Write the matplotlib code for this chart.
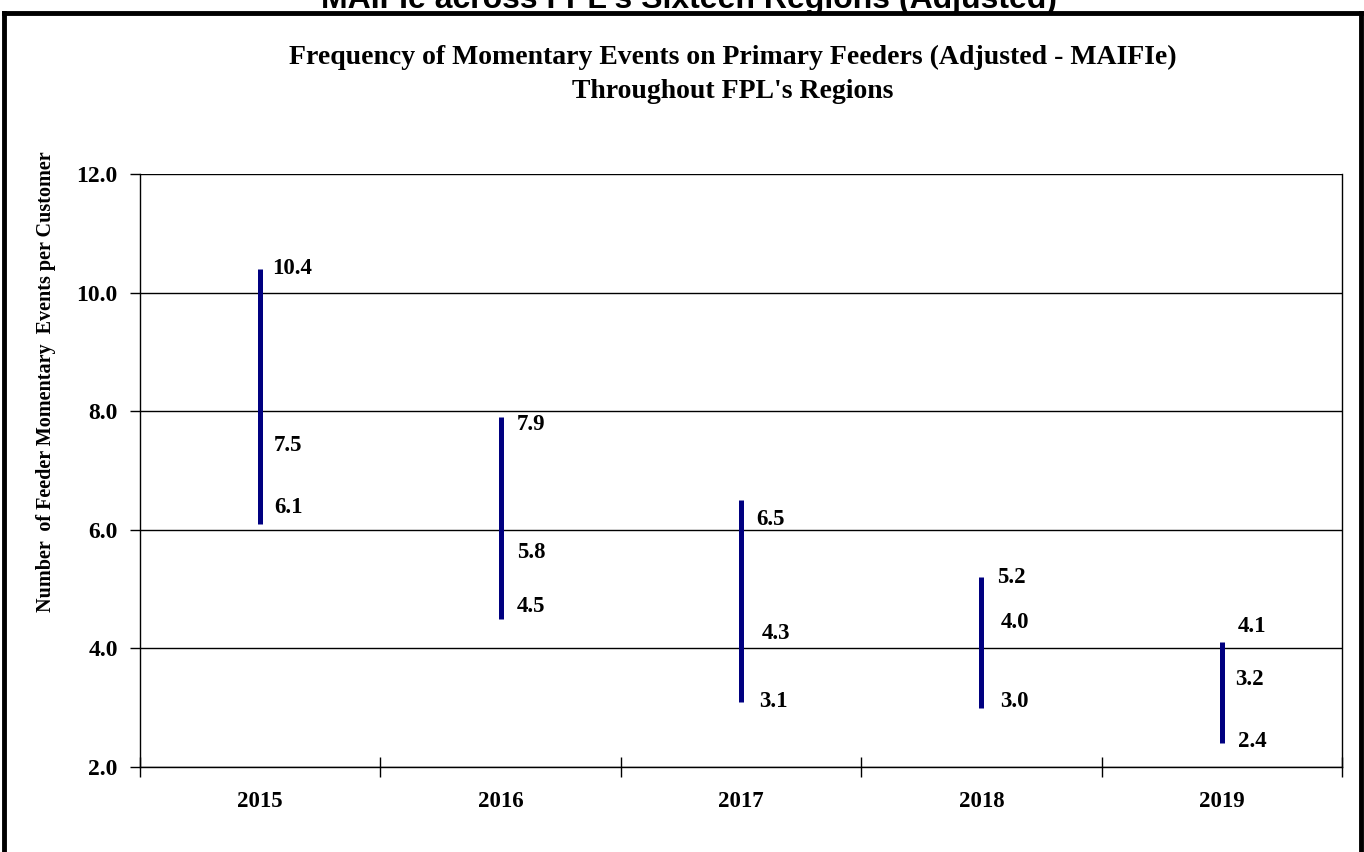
import matplotlib.pyplot as plt
from matplotlib.lines import Line2D

# Data
years = ["2015", "2016", "2017", "2018", "2019"]
high = [10.4, 7.9, 6.5, 5.2, 4.1]
mid = [7.5, 5.8, 4.3, 4.0, 3.2]
low = [6.1, 4.5, 3.1, 3.0, 2.4]
yticks = [2.0, 4.0, 6.0, 8.0, 10.0, 12.0]

# label nudges (points), as placed by hand in the original chart
high_dx = [8.6, 11.5, 10.8, 11.5, 11.5]
high_dy = [0, -5, -13.7, 0, 11.5]
mid_dx = [10, 11.5, 15, 13.7, 9.4]
mid_dy = [-3, -8, -2, 18.7, 11.5]
low_dx = [10, 11.5, 13, 13.7, 11.5]
low_dy = [11.5, 8.6, 0, 4.3, 1.4]

serif = ["Liberation Serif", "DejaVu Serif"]
navy = "#000080"

fig = plt.figure(figsize=(13.64, 8.52), dpi=100)
ax = fig.add_axes([140 / 1364, 85 / 852, 1202 / 1364, 593 / 852])

x = list(range(len(years)))
ax.vlines(x, low, high, color=navy, lw=3.6, zorder=3)

for i in x:
    for val, dx, dy in ((high[i], high_dx[i], high_dy[i]),
                        (mid[i], mid_dx[i], mid_dy[i]),
                        (low[i], low_dx[i], low_dy[i])):
        ax.annotate(f"{val:.1f}", (i, val), xytext=(dx, dy),
                    textcoords="offset points", ha="left", va="center",
                    fontsize=16.5, fontweight="bold", family=serif)

ax.set_xlim(-0.5, len(years) - 0.5)
ax.set_ylim(2, 12)
ax.set_yticks(yticks)
ax.set_yticklabels([f"{v:.1f}" for v in yticks], fontsize=17,
                   fontweight="bold", family=serif)
ax.tick_params(axis="y", direction="out", length=7, width=1, pad=9)
ax.grid(axis="y", color="black", lw=1)
ax.set_axisbelow(True)

ax.set_xticks(x)
ax.set_xticklabels(years, fontsize=16.5, fontweight="bold", family=serif)
ax.tick_params(axis="x", which="major", length=0, pad=17)
ax.set_xticks([i - 0.5 for i in range(len(years) + 1)], minor=True)
ax.tick_params(axis="x", which="minor", direction="inout", length=14, width=1)

for s in ax.spines.values():
    s.set_linewidth(1)
    s.set_color("black")
ax.spines["top"].set_visible(False)

ax.set_ylabel("Number  of Feeder Momentary  Events per Customer",
              fontsize=14.5, fontweight="bold", family=serif)
ax.yaxis.set_label_coords(-84 / 1202, 0.649)

# titles
fig.text(733 / 1364, 1 - 57 / 852,
         "Frequency of Momentary Events on Primary Feeders (Adjusted - MAIFIe)",
         ha="center", va="center", fontsize=20, fontweight="bold", family=serif)
fig.text(733 / 1364, 1 - 92 / 852, "Throughout FPL's Regions",
         ha="center", va="center", fontsize=20, fontweight="bold", family=serif)

# cropped heading from the page above
fig.text(689 / 1364, 1 - 8 / 852, "MAIFIe across FPL's Sixteen Regions (Adjusted)",
         ha="center", va="baseline", fontsize=23, fontweight="bold",
         family=["Liberation Sans", "DejaVu Sans"])

# outer frame
fig.add_artist(Line2D([4 / 1364, 4 / 1364], [-0.1, 1 - 13 / 852], color="black", lw=3.5))
fig.add_artist(Line2D([1361 / 1364, 1361 / 1364], [-0.1, 1 - 13 / 852], color="black", lw=3.5))
fig.add_artist(Line2D([4 / 1364, 1361 / 1364], [1 - 13 / 852, 1 - 13 / 852], color="black", lw=3.5))

fig.savefig("out.png", dpi=100)
